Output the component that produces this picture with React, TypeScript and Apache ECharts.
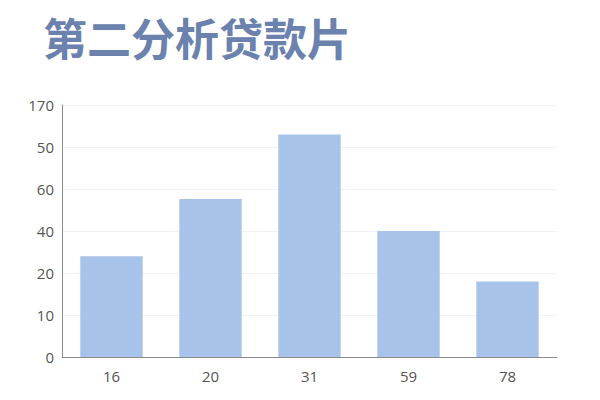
import React, { useEffect, useRef } from 'react';
import * as echarts from 'echarts';

// 数据
const categories = ['16', '20', '31', '59', '78'];
const values = [24, 37.6, 53, 30, 18];
// y-axis tick labels as printed on the chart (one per gridline, bottom to top)
const yTickLabels = ['0', '10', '20', '40', '60', '50', '170'];
const titleText = '第二分析贷款片';

const App: React.FC = () => {
	const chartRef = useRef<HTMLDivElement>(null);

	useEffect(() => {
		if (!chartRef.current) return;
		const chart = echarts.init(chartRef.current, undefined, { renderer: 'svg' });

		const option: echarts.EChartsOption = {
			animation: false,
			backgroundColor: '#ffffff',
			title: {
				text: titleText,
				left: 38,
				top: 10,
				textStyle: {
					color: '#6a82ad',
					fontSize: 44,
					fontWeight: 'bold',
					fontFamily: '"Noto Sans CJK SC", sans-serif'
				}
			},
			grid: {
				left: 62,
				right: 43,
				top: 105,
				bottom: 43,
				containLabel: false
			},
			xAxis: {
				type: 'category',
				data: categories,
				axisLine: { lineStyle: { color: '#8a8a8a', width: 1 } },
				axisTick: { show: false },
				axisLabel: {
					color: '#555555',
					fontSize: 15,
					margin: 11,
					fontFamily: '"Open Sans", sans-serif'
				}
			},
			yAxis: {
				type: 'value',
				min: 0,
				max: 60,
				interval: 10,
				axisLine: { show: true, lineStyle: { color: '#8a8a8a', width: 1 } },
				axisTick: { show: false },
				axisLabel: {
					color: '#555555',
					fontSize: 15,
					margin: 8,
					fontFamily: '"Open Sans", sans-serif',
					formatter: (v: number) => yTickLabels[Math.round(v / 10)] ?? ''
				},
				splitLine: { lineStyle: { color: '#f0f2f5', width: 1 } }
			},
			series: [
				{
					type: 'bar',
					data: values,
					barWidth: '63%',
					itemStyle: { color: '#a8c3ea' }
				}
			]
		};

		chart.setOption(option);

		return () => {
			chart.dispose();
		};
	}, []);

	return <div ref={chartRef} style={{ width: '600px', height: '400px', margin: '-8px' }} />;
};

export default App;
